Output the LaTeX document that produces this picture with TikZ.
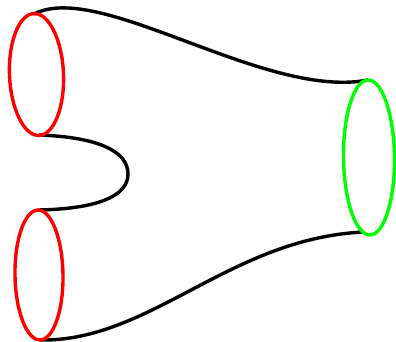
\documentclass[tikz,border=0pt]{standalone}
\begin{document}
\begin{tikzpicture}[x=1pt,y=1pt,
  seam/.style={line width=3.4pt,black},
  rim/.style={line width=3.4pt}]
\useasboundingbox (0,0) rectangle (396,-342);
% attach points
\coordinate (t1top) at (34,-14);
\coordinate (t1bot) at (39,-135);
\coordinate (t2top) at (38,-210);
\coordinate (t2bot) at (40,-340);
\coordinate (gtop) at (368,-80);
\coordinate (gbot) at (364,-232);
\coordinate (crotch) at (128,-174);
% black seams
\draw[seam] (t1top) .. controls (100,20) and (265,-100) .. (gtop);
\draw[seam] (t2bot) .. controls (150,-342) and (230,-238) .. (gbot);
\draw[seam] (t1bot) .. controls (95,-137) and (128,-150) .. (crotch)
             .. controls (128,-197) and (95,-209) .. (t2top);
% rims
\draw[rim,red,rotate around={2.4:(36.5,-74.5)}] (36.5,-74.5) ellipse (27 and 61);
\draw[rim,red,rotate around={0.9:(39,-275)}] (39,-275) ellipse (24 and 65);
\draw[rim,green,rotate around={0.7:(369,-157.5)}] (369,-157.5) ellipse (25.5 and 77.5);
\end{tikzpicture}
\end{document}
